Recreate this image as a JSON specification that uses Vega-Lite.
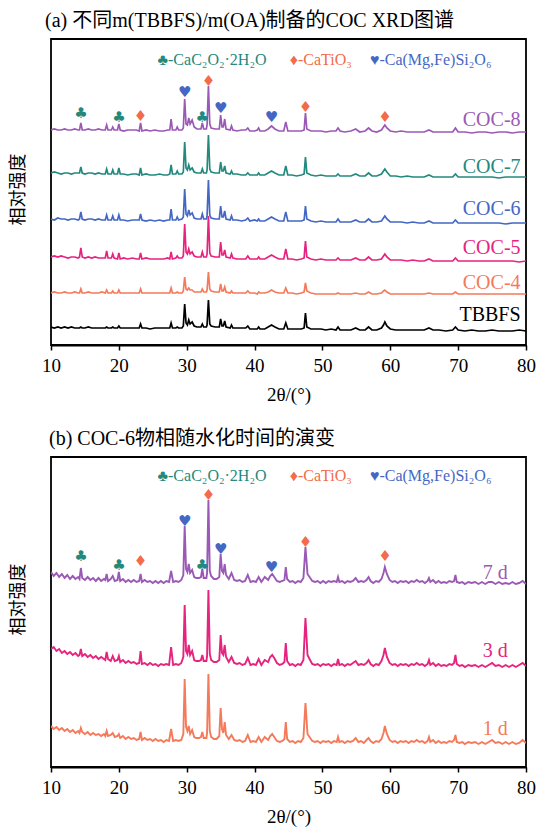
{
"$schema": "https://vega.github.io/schema/vega-lite/v6.json",
"padding": {"left": 8, "top": 10, "right": 5, "bottom": 5},
"spacing": 23,
"config": {
 "font": "Liberation Serif",
 "view": {"stroke": "#000", "strokeWidth": 1.8},
 "axis": {"grid": false}
},
"datasets": {
"xa": [
{"x":10,"TBBFS":18,"COC-4":52,"COC-5":88,"COC-6":126,"COC-7":172,"COC-8":215},
{"x":10.5,"TBBFS":17,"COC-4":53,"COC-5":89,"COC-6":125,"COC-7":173,"COC-8":216},
{"x":11,"TBBFS":18,"COC-4":52,"COC-5":88,"COC-6":127,"COC-7":172,"COC-8":215},
{"x":11.5,"TBBFS":17,"COC-4":52,"COC-5":89,"COC-6":126,"COC-7":171,"COC-8":215},
{"x":12,"TBBFS":18,"COC-4":53,"COC-5":88,"COC-6":126,"COC-7":172,"COC-8":216},
{"x":12.5,"TBBFS":17,"COC-4":52,"COC-5":87,"COC-6":125,"COC-7":172,"COC-8":215},
{"x":13,"TBBFS":18,"COC-4":52,"COC-5":88,"COC-6":126,"COC-7":171,"COC-8":215},
{"x":13.5,"TBBFS":17,"COC-4":53,"COC-5":88,"COC-6":126,"COC-7":172,"COC-8":216},
{"x":14,"TBBFS":17,"COC-4":52,"COC-5":87,"COC-6":125,"COC-7":172,"COC-8":215},
{"x":14.2,"TBBFS":17,"COC-4":52,"COC-5":88,"COC-6":126,"COC-7":172,"COC-8":215},
{"x":14.4,"TBBFS":18,"COC-4":56,"COC-5":97,"COC-6":133,"COC-7":178,"COC-8":222},
{"x":14.6,"TBBFS":17,"COC-4":52,"COC-5":88,"COC-6":126,"COC-7":172,"COC-8":215},
{"x":15,"TBBFS":17,"COC-4":52,"COC-5":87,"COC-6":125,"COC-7":171,"COC-8":215},
{"x":15.5,"TBBFS":18,"COC-4":53,"COC-5":88,"COC-6":126,"COC-7":172,"COC-8":216},
{"x":16,"TBBFS":17,"COC-4":52,"COC-5":87,"COC-6":126,"COC-7":172,"COC-8":215},
{"x":16.5,"TBBFS":17,"COC-4":52,"COC-5":88,"COC-6":125,"COC-7":171,"COC-8":215},
{"x":17,"TBBFS":17,"COC-4":52,"COC-5":87,"COC-6":126,"COC-7":172,"COC-8":216},
{"x":17.5,"TBBFS":17,"COC-4":53,"COC-5":87,"COC-6":125,"COC-7":171,"COC-8":215},
{"x":18,"TBBFS":17,"COC-4":52,"COC-5":87,"COC-6":125,"COC-7":171,"COC-8":215},
{"x":18.2,"TBBFS":18,"COC-4":55,"COC-5":94,"COC-6":130,"COC-7":176,"COC-8":220},
{"x":18.4,"TBBFS":17,"COC-4":52,"COC-5":87,"COC-6":125,"COC-7":171,"COC-8":215},
{"x":18.9,"TBBFS":17,"COC-4":52,"COC-5":87,"COC-6":125,"COC-7":171,"COC-8":215},
{"x":19.1,"TBBFS":18,"COC-4":54,"COC-5":91,"COC-6":129,"COC-7":175,"COC-8":218},
{"x":19.3,"TBBFS":17,"COC-4":52,"COC-5":87,"COC-6":125,"COC-7":171,"COC-8":215},
{"x":19.8,"TBBFS":17,"COC-4":52,"COC-5":86,"COC-6":125,"COC-7":171,"COC-8":215},
{"x":20.0,"TBBFS":19,"COC-4":55,"COC-5":92,"COC-6":130,"COC-7":177,"COC-8":221},
{"x":20.2,"TBBFS":17,"COC-4":52,"COC-5":86,"COC-6":125,"COC-7":171,"COC-8":215},
{"x":20.7,"TBBFS":17,"COC-4":52,"COC-5":87,"COC-6":125,"COC-7":171,"COC-8":214},
{"x":21.3,"TBBFS":17,"COC-4":52,"COC-5":86,"COC-6":124,"COC-7":170,"COC-8":215},
{"x":22,"TBBFS":17,"COC-4":52,"COC-5":87,"COC-6":125,"COC-7":171,"COC-8":215},
{"x":22.6,"TBBFS":17,"COC-4":52,"COC-5":86,"COC-6":125,"COC-7":171,"COC-8":215},
{"x":23.0,"TBBFS":17,"COC-4":52,"COC-5":86,"COC-6":125,"COC-7":170,"COC-8":214},
{"x":23.2,"TBBFS":21,"COC-4":56,"COC-5":92,"COC-6":131,"COC-7":177,"COC-8":222},
{"x":23.4,"TBBFS":17,"COC-4":52,"COC-5":86,"COC-6":125,"COC-7":170,"COC-8":214},
{"x":24,"TBBFS":17,"COC-4":52,"COC-5":87,"COC-6":124,"COC-7":171,"COC-8":215},
{"x":24.6,"TBBFS":16,"COC-4":52,"COC-5":86,"COC-6":125,"COC-7":170,"COC-8":214},
{"x":25.3,"TBBFS":17,"COC-4":52,"COC-5":86,"COC-6":124,"COC-7":170,"COC-8":215},
{"x":26,"TBBFS":17,"COC-4":52,"COC-5":86,"COC-6":125,"COC-7":171,"COC-8":214},
{"x":26.6,"TBBFS":17,"COC-4":52,"COC-5":86,"COC-6":124,"COC-7":170,"COC-8":214},
{"x":27.2,"TBBFS":17,"COC-4":52,"COC-5":87,"COC-6":125,"COC-7":170,"COC-8":215},
{"x":27.5,"TBBFS":17,"COC-4":52,"COC-5":86,"COC-6":125,"COC-7":171,"COC-8":215},
{"x":27.7,"TBBFS":22,"COC-4":57,"COC-5":93,"COC-6":136,"COC-7":180,"COC-8":226},
{"x":27.9,"TBBFS":17,"COC-4":52,"COC-5":86,"COC-6":125,"COC-7":171,"COC-8":215},
{"x":28.4,"TBBFS":17,"COC-4":52,"COC-5":87,"COC-6":125,"COC-7":171,"COC-8":215},
{"x":28.6,"TBBFS":18,"COC-4":53,"COC-5":89,"COC-6":128,"COC-7":174,"COC-8":218},
{"x":28.8,"TBBFS":17,"COC-4":52,"COC-5":87,"COC-6":125,"COC-7":171,"COC-8":215},
{"x":29.3,"TBBFS":17,"COC-4":52,"COC-5":87,"COC-6":126,"COC-7":171,"COC-8":215},
{"x":29.5,"TBBFS":19,"COC-4":54,"COC-5":89,"COC-6":128,"COC-7":173,"COC-8":217},
{"x":29.7,"TBBFS":41,"COC-4":68,"COC-5":121,"COC-6":156,"COC-7":203,"COC-8":246},
{"x":29.9,"TBBFS":22,"COC-4":56,"COC-5":93,"COC-6":131,"COC-7":177,"COC-8":221},
{"x":30.1,"TBBFS":20,"COC-4":55,"COC-5":91,"COC-6":129,"COC-7":175,"COC-8":220},
{"x":30.3,"TBBFS":25,"COC-4":57,"COC-5":96,"COC-6":135,"COC-7":180,"COC-8":227},
{"x":30.5,"TBBFS":21,"COC-4":55,"COC-5":91,"COC-6":130,"COC-7":175,"COC-8":221},
{"x":30.8,"TBBFS":23,"COC-4":55,"COC-5":93,"COC-6":132,"COC-7":177,"COC-8":225},
{"x":31.1,"TBBFS":19,"COC-4":53,"COC-5":89,"COC-6":127,"COC-7":173,"COC-8":218},
{"x":31.5,"TBBFS":18,"COC-4":53,"COC-5":88,"COC-6":126,"COC-7":172,"COC-8":216},
{"x":32.1,"TBBFS":18,"COC-4":53,"COC-5":88,"COC-6":126,"COC-7":172,"COC-8":216},
{"x":32.3,"TBBFS":21,"COC-4":56,"COC-5":93,"COC-6":131,"COC-7":176,"COC-8":222},
{"x":32.5,"TBBFS":18,"COC-4":53,"COC-5":88,"COC-6":126,"COC-7":172,"COC-8":216},
{"x":32.9,"TBBFS":18,"COC-4":53,"COC-5":88,"COC-6":126,"COC-7":172,"COC-8":216},
{"x":33.0,"TBBFS":20,"COC-4":55,"COC-5":91,"COC-6":129,"COC-7":175,"COC-8":220},
{"x":33.2,"TBBFS":45,"COC-4":73,"COC-5":129,"COC-6":165,"COC-7":210,"COC-8":259},
{"x":33.4,"TBBFS":21,"COC-4":56,"COC-5":92,"COC-6":130,"COC-7":176,"COC-8":221},
{"x":33.6,"TBBFS":19,"COC-4":54,"COC-5":89,"COC-6":127,"COC-7":173,"COC-8":217},
{"x":34.2,"TBBFS":18,"COC-4":53,"COC-5":88,"COC-6":126,"COC-7":172,"COC-8":216},
{"x":34.8,"TBBFS":18,"COC-4":53,"COC-5":88,"COC-6":126,"COC-7":172,"COC-8":216},
{"x":35.0,"TBBFS":26,"COC-4":61,"COC-5":103,"COC-6":139,"COC-7":183,"COC-8":230},
{"x":35.2,"TBBFS":19,"COC-4":54,"COC-5":90,"COC-6":128,"COC-7":174,"COC-8":218},
{"x":35.4,"TBBFS":19,"COC-4":54,"COC-5":90,"COC-6":128,"COC-7":174,"COC-8":218},
{"x":35.6,"TBBFS":24,"COC-4":58,"COC-5":95,"COC-6":134,"COC-7":179,"COC-8":226},
{"x":35.8,"TBBFS":18,"COC-4":53,"COC-5":88,"COC-6":126,"COC-7":172,"COC-8":216},
{"x":36.4,"TBBFS":17,"COC-4":52,"COC-5":87,"COC-6":125,"COC-7":171,"COC-8":215},
{"x":36.6,"TBBFS":20,"COC-4":54,"COC-5":91,"COC-6":129,"COC-7":174,"COC-8":219},
{"x":36.8,"TBBFS":17,"COC-4":52,"COC-5":87,"COC-6":125,"COC-7":171,"COC-8":215},
{"x":37.4,"TBBFS":17,"COC-4":52,"COC-5":86,"COC-6":125,"COC-7":171,"COC-8":214},
{"x":38.1,"TBBFS":17,"COC-4":52,"COC-5":86,"COC-6":124,"COC-7":170,"COC-8":215},
{"x":38.7,"TBBFS":17,"COC-4":52,"COC-5":86,"COC-6":125,"COC-7":170,"COC-8":215},
{"x":39.0,"TBBFS":19,"COC-4":54,"COC-5":89,"COC-6":127,"COC-7":172,"COC-8":217},
{"x":39.3,"TBBFS":16,"COC-4":52,"COC-5":86,"COC-6":124,"COC-7":170,"COC-8":214},
{"x":40.0,"TBBFS":16,"COC-4":52,"COC-5":86,"COC-6":125,"COC-7":170,"COC-8":214},
{"x":40.4,"TBBFS":16,"COC-4":51,"COC-5":86,"COC-6":124,"COC-7":170,"COC-8":215},
{"x":40.6,"TBBFS":18,"COC-4":53,"COC-5":88,"COC-6":126,"COC-7":172,"COC-8":217},
{"x":40.8,"TBBFS":16,"COC-4":52,"COC-5":86,"COC-6":124,"COC-7":170,"COC-8":214},
{"x":41.5,"TBBFS":16,"COC-4":52,"COC-5":86,"COC-6":124,"COC-7":170,"COC-8":214},
{"x":42.0,"TBBFS":18,"COC-4":53,"COC-5":88,"COC-6":126,"COC-7":172,"COC-8":216},
{"x":42.5,"TBBFS":20,"COC-4":55,"COC-5":90,"COC-6":128,"COC-7":174,"COC-8":219},
{"x":43.0,"TBBFS":18,"COC-4":53,"COC-5":88,"COC-6":126,"COC-7":172,"COC-8":216},
{"x":43.6,"TBBFS":16,"COC-4":52,"COC-5":86,"COC-6":124,"COC-7":170,"COC-8":214},
{"x":44.3,"TBBFS":16,"COC-4":52,"COC-5":86,"COC-6":124,"COC-7":170,"COC-8":214},
{"x":44.6,"TBBFS":22,"COC-4":57,"COC-5":96,"COC-6":133,"COC-7":179,"COC-8":223},
{"x":44.9,"TBBFS":16,"COC-4":52,"COC-5":86,"COC-6":124,"COC-7":170,"COC-8":214},
{"x":45.5,"TBBFS":16,"COC-4":52,"COC-5":86,"COC-6":124,"COC-7":170,"COC-8":214},
{"x":46.2,"TBBFS":16,"COC-4":51,"COC-5":85,"COC-6":124,"COC-7":169,"COC-8":214},
{"x":46.9,"TBBFS":16,"COC-4":52,"COC-5":86,"COC-6":124,"COC-7":170,"COC-8":214},
{"x":47.3,"TBBFS":17,"COC-4":53,"COC-5":87,"COC-6":125,"COC-7":171,"COC-8":215},
{"x":47.5,"TBBFS":32,"COC-4":62,"COC-5":104,"COC-6":139,"COC-7":188,"COC-8":232},
{"x":47.7,"TBBFS":18,"COC-4":54,"COC-5":88,"COC-6":126,"COC-7":172,"COC-8":216},
{"x":48.3,"TBBFS":16,"COC-4":52,"COC-5":86,"COC-6":124,"COC-7":170,"COC-8":214},
{"x":49,"TBBFS":16,"COC-4":51,"COC-5":85,"COC-6":123,"COC-7":169,"COC-8":214},
{"x":49.8,"TBBFS":16,"COC-4":51,"COC-5":86,"COC-6":124,"COC-7":170,"COC-8":214},
{"x":50.5,"TBBFS":15,"COC-4":51,"COC-5":85,"COC-6":123,"COC-7":169,"COC-8":213},
{"x":51.3,"TBBFS":16,"COC-4":51,"COC-5":85,"COC-6":123,"COC-7":169,"COC-8":214},
{"x":52.0,"TBBFS":15,"COC-4":51,"COC-5":85,"COC-6":123,"COC-7":169,"COC-8":214},
{"x":52.3,"TBBFS":18,"COC-4":52,"COC-5":87,"COC-6":126,"COC-7":171,"COC-8":217},
{"x":52.6,"TBBFS":15,"COC-4":51,"COC-5":85,"COC-6":123,"COC-7":169,"COC-8":214},
{"x":53.3,"TBBFS":15,"COC-4":51,"COC-5":85,"COC-6":123,"COC-7":169,"COC-8":213},
{"x":54.2,"TBBFS":15,"COC-4":51,"COC-5":85,"COC-6":123,"COC-7":169,"COC-8":214},
{"x":54.9,"TBBFS":17,"COC-4":52,"COC-5":87,"COC-6":125,"COC-7":171,"COC-8":216},
{"x":55.5,"TBBFS":15,"COC-4":51,"COC-5":85,"COC-6":123,"COC-7":169,"COC-8":213},
{"x":56.3,"TBBFS":15,"COC-4":51,"COC-5":85,"COC-6":123,"COC-7":169,"COC-8":214},
{"x":56.8,"TBBFS":18,"COC-4":53,"COC-5":88,"COC-6":126,"COC-7":172,"COC-8":217},
{"x":57.3,"TBBFS":15,"COC-4":51,"COC-5":85,"COC-6":123,"COC-7":169,"COC-8":214},
{"x":58.0,"TBBFS":15,"COC-4":51,"COC-5":85,"COC-6":123,"COC-7":169,"COC-8":213},
{"x":58.7,"TBBFS":17,"COC-4":52,"COC-5":86,"COC-6":124,"COC-7":171,"COC-8":215},
{"x":59.0,"TBBFS":20,"COC-4":54,"COC-5":89,"COC-6":127,"COC-7":174,"COC-8":218},
{"x":59.2,"TBBFS":23,"COC-4":55,"COC-5":91,"COC-6":129,"COC-7":176,"COC-8":220},
{"x":59.5,"TBBFS":19,"COC-4":53,"COC-5":88,"COC-6":126,"COC-7":173,"COC-8":217},
{"x":60.0,"TBBFS":16,"COC-4":51,"COC-5":85,"COC-6":123,"COC-7":169,"COC-8":214},
{"x":60.8,"TBBFS":15,"COC-4":51,"COC-5":85,"COC-6":123,"COC-7":169,"COC-8":213},
{"x":61.6,"TBBFS":15,"COC-4":51,"COC-5":85,"COC-6":123,"COC-7":168,"COC-8":214},
{"x":62.5,"TBBFS":15,"COC-4":51,"COC-5":84,"COC-6":122,"COC-7":169,"COC-8":213},
{"x":63.3,"TBBFS":15,"COC-4":51,"COC-5":85,"COC-6":123,"COC-7":168,"COC-8":213},
{"x":64.2,"TBBFS":15,"COC-4":51,"COC-5":84,"COC-6":122,"COC-7":168,"COC-8":213},
{"x":65.0,"TBBFS":15,"COC-4":51,"COC-5":84,"COC-6":122,"COC-7":168,"COC-8":213},
{"x":65.7,"TBBFS":17,"COC-4":52,"COC-5":86,"COC-6":124,"COC-7":170,"COC-8":215},
{"x":66.3,"TBBFS":15,"COC-4":51,"COC-5":84,"COC-6":122,"COC-7":168,"COC-8":213},
{"x":67.2,"TBBFS":15,"COC-4":51,"COC-5":84,"COC-6":122,"COC-7":168,"COC-8":213},
{"x":68.2,"TBBFS":14,"COC-4":51,"COC-5":84,"COC-6":122,"COC-7":168,"COC-8":213},
{"x":69.2,"TBBFS":15,"COC-4":51,"COC-5":84,"COC-6":122,"COC-7":168,"COC-8":213},
{"x":69.6,"TBBFS":18,"COC-4":53,"COC-5":87,"COC-6":125,"COC-7":171,"COC-8":217},
{"x":70.0,"TBBFS":15,"COC-4":51,"COC-5":84,"COC-6":122,"COC-7":168,"COC-8":213},
{"x":71,"TBBFS":14,"COC-4":51,"COC-5":84,"COC-6":122,"COC-7":168,"COC-8":213},
{"x":72,"TBBFS":15,"COC-4":51,"COC-5":84,"COC-6":122,"COC-7":168,"COC-8":212},
{"x":73,"TBBFS":14,"COC-4":51,"COC-5":84,"COC-6":122,"COC-7":168,"COC-8":213},
{"x":74,"TBBFS":14,"COC-4":51,"COC-5":84,"COC-6":122,"COC-7":168,"COC-8":213},
{"x":75,"TBBFS":15,"COC-4":51,"COC-5":84,"COC-6":122,"COC-7":168,"COC-8":212},
{"x":76,"TBBFS":14,"COC-4":51,"COC-5":84,"COC-6":122,"COC-7":167,"COC-8":213},
{"x":77,"TBBFS":14,"COC-4":51,"COC-5":84,"COC-6":121,"COC-7":168,"COC-8":213},
{"x":78,"TBBFS":14,"COC-4":51,"COC-5":84,"COC-6":122,"COC-7":168,"COC-8":212},
{"x":79,"TBBFS":15,"COC-4":51,"COC-5":83,"COC-6":122,"COC-7":168,"COC-8":213},
{"x":80,"TBBFS":14,"COC-4":51,"COC-5":84,"COC-6":122,"COC-7":168,"COC-8":213}
],
"la": [
{"x":79.2,"v":225,"c":"COC-8","t":"COC-8"},
{"x":79.2,"v":178,"c":"COC-7","t":"COC-7"},
{"x":79.2,"v":136,"c":"COC-6","t":"COC-6"},
{"x":79.2,"v":97,"c":"COC-5","t":"COC-5"},
{"x":79.2,"v":62,"c":"COC-4","t":"COC-4"},
{"x":79.2,"v":30,"c":"TBBFS","t":"TBBFS"}
],
"ma": [
{"x":14.4,"v":232,"c":"CaC2O2·2H2O","t":"♣"},
{"x":20.0,"v":228,"c":"CaC2O2·2H2O","t":"♣"},
{"x":23.2,"v":229,"c":"CaTiO3","t":"♦"},
{"x":29.7,"v":253,"c":"Ca(Mg,Fe)Si2O6","t":"♥"},
{"x":32.3,"v":228,"c":"CaC2O2·2H2O","t":"♣"},
{"x":33.2,"v":264,"c":"CaTiO3","t":"♦"},
{"x":35.0,"v":237,"c":"Ca(Mg,Fe)Si2O6","t":"♥"},
{"x":42.5,"v":228,"c":"Ca(Mg,Fe)Si2O6","t":"♥"},
{"x":47.5,"v":238,"c":"CaTiO3","t":"♦"},
{"x":59.2,"v":228,"c":"CaTiO3","t":"♦"}
],
"ga": [
{"x":25.7,"v":285,"c":"CaC2O2·2H2O","t":"♣-CaC₂O₂·2H₂O"},
{"x":45.2,"v":285,"c":"CaTiO3","t":"♦-CaTiO₃"},
{"x":57.0,"v":285,"c":"Ca(Mg,Fe)Si2O6","t":"♥-Ca(Mg,Fe)Si₂O₆"}
],
"xb": [
{"x":10,"7 d":195,"3 d":118,"1 d":41},
{"x":10.4,"7 d":191,"3 d":120,"1 d":38},
{"x":10.8,"7 d":194,"3 d":116,"1 d":40},
{"x":11.2,"7 d":190,"3 d":118,"1 d":37},
{"x":11.6,"7 d":193,"3 d":114,"1 d":39},
{"x":12.0,"7 d":189,"3 d":116,"1 d":36},
{"x":12.4,"7 d":192,"3 d":113,"1 d":38},
{"x":12.8,"7 d":188,"3 d":115,"1 d":35},
{"x":13.2,"7 d":191,"3 d":112,"1 d":37},
{"x":13.6,"7 d":188,"3 d":114,"1 d":34},
{"x":14.0,"7 d":190,"3 d":111,"1 d":36},
{"x":14.2,"7 d":188,"3 d":112,"1 d":34},
{"x":14.4,"7 d":199,"3 d":118,"1 d":39},
{"x":14.6,"7 d":189,"3 d":111,"1 d":35},
{"x":15.0,"7 d":187,"3 d":113,"1 d":33},
{"x":15.4,"7 d":190,"3 d":110,"1 d":35},
{"x":15.8,"7 d":187,"3 d":112,"1 d":32},
{"x":16.2,"7 d":189,"3 d":109,"1 d":34},
{"x":16.6,"7 d":186,"3 d":111,"1 d":32},
{"x":17.0,"7 d":189,"3 d":108,"1 d":33},
{"x":17.4,"7 d":186,"3 d":110,"1 d":31},
{"x":17.8,"7 d":188,"3 d":108,"1 d":33},
{"x":18.0,"7 d":187,"3 d":107,"1 d":31},
{"x":18.2,"7 d":193,"3 d":115,"1 d":36},
{"x":18.4,"7 d":186,"3 d":108,"1 d":31},
{"x":18.8,"7 d":188,"3 d":106,"1 d":32},
{"x":19.1,"7 d":191,"3 d":111,"1 d":34},
{"x":19.4,"7 d":186,"3 d":106,"1 d":30},
{"x":19.8,"7 d":187,"3 d":107,"1 d":31},
{"x":20.0,"7 d":195,"3 d":111,"1 d":33},
{"x":20.2,"7 d":186,"3 d":105,"1 d":29},
{"x":20.6,"7 d":188,"3 d":107,"1 d":31},
{"x":21.0,"7 d":185,"3 d":104,"1 d":28},
{"x":21.4,"7 d":187,"3 d":106,"1 d":30},
{"x":21.8,"7 d":185,"3 d":104,"1 d":28},
{"x":22.2,"7 d":187,"3 d":105,"1 d":29},
{"x":22.6,"7 d":185,"3 d":103,"1 d":27},
{"x":23.0,"7 d":186,"3 d":104,"1 d":28},
{"x":23.2,"7 d":193,"3 d":116,"1 d":35},
{"x":23.4,"7 d":185,"3 d":103,"1 d":27},
{"x":23.8,"7 d":187,"3 d":104,"1 d":29},
{"x":24.2,"7 d":185,"3 d":102,"1 d":27},
{"x":24.6,"7 d":186,"3 d":104,"1 d":28},
{"x":25.0,"7 d":184,"3 d":102,"1 d":26},
{"x":25.4,"7 d":186,"3 d":103,"1 d":28},
{"x":25.8,"7 d":184,"3 d":101,"1 d":26},
{"x":26.2,"7 d":186,"3 d":103,"1 d":27},
{"x":26.6,"7 d":184,"3 d":102,"1 d":25},
{"x":27.0,"7 d":186,"3 d":103,"1 d":27},
{"x":27.4,"7 d":185,"3 d":102,"1 d":26},
{"x":27.7,"7 d":196,"3 d":120,"1 d":38},
{"x":28.0,"7 d":185,"3 d":102,"1 d":26},
{"x":28.4,"7 d":186,"3 d":103,"1 d":27},
{"x":28.8,"7 d":185,"3 d":102,"1 d":26},
{"x":29.2,"7 d":187,"3 d":104,"1 d":27},
{"x":29.5,"7 d":192,"3 d":110,"1 d":33},
{"x":29.7,"7 d":241,"3 d":162,"1 d":88},
{"x":29.9,"7 d":198,"3 d":116,"1 d":40},
{"x":30.1,"7 d":195,"3 d":113,"1 d":36},
{"x":30.3,"7 d":203,"3 d":122,"1 d":41},
{"x":30.5,"7 d":194,"3 d":112,"1 d":33},
{"x":30.8,"7 d":197,"3 d":116,"1 d":37},
{"x":31.1,"7 d":190,"3 d":107,"1 d":30},
{"x":31.4,"7 d":189,"3 d":106,"1 d":29},
{"x":31.8,"7 d":189,"3 d":106,"1 d":29},
{"x":32.1,"7 d":190,"3 d":107,"1 d":30},
{"x":32.3,"7 d":198,"3 d":112,"1 d":35},
{"x":32.5,"7 d":189,"3 d":106,"1 d":29},
{"x":32.9,"7 d":189,"3 d":106,"1 d":29},
{"x":33.0,"7 d":194,"3 d":111,"1 d":34},
{"x":33.2,"7 d":267,"3 d":177,"1 d":93},
{"x":33.4,"7 d":196,"3 d":113,"1 d":36},
{"x":33.6,"7 d":191,"3 d":107,"1 d":30},
{"x":34.0,"7 d":188,"3 d":105,"1 d":28},
{"x":34.4,"7 d":188,"3 d":105,"1 d":28},
{"x":34.8,"7 d":190,"3 d":107,"1 d":31},
{"x":35.0,"7 d":213,"3 d":132,"1 d":59},
{"x":35.2,"7 d":196,"3 d":114,"1 d":38},
{"x":35.4,"7 d":194,"3 d":112,"1 d":34},
{"x":35.6,"7 d":203,"3 d":122,"1 d":45},
{"x":35.8,"7 d":192,"3 d":110,"1 d":32},
{"x":36.2,"7 d":188,"3 d":105,"1 d":28},
{"x":36.6,"7 d":194,"3 d":110,"1 d":32},
{"x":37.0,"7 d":187,"3 d":104,"1 d":27},
{"x":37.4,"7 d":186,"3 d":103,"1 d":26},
{"x":37.8,"7 d":187,"3 d":104,"1 d":27},
{"x":38.2,"7 d":185,"3 d":102,"1 d":25},
{"x":38.6,"7 d":186,"3 d":103,"1 d":26},
{"x":39.0,"7 d":192,"3 d":109,"1 d":32},
{"x":39.4,"7 d":185,"3 d":102,"1 d":25},
{"x":39.8,"7 d":186,"3 d":103,"1 d":26},
{"x":40.2,"7 d":185,"3 d":102,"1 d":25},
{"x":40.6,"7 d":190,"3 d":108,"1 d":30},
{"x":41.0,"7 d":185,"3 d":102,"1 d":25},
{"x":41.5,"7 d":190,"3 d":107,"1 d":30},
{"x":42.0,"7 d":187,"3 d":105,"1 d":27},
{"x":42.3,"7 d":191,"3 d":110,"1 d":31},
{"x":42.6,"7 d":193,"3 d":112,"1 d":33},
{"x":42.9,"7 d":190,"3 d":109,"1 d":30},
{"x":43.3,"7 d":186,"3 d":104,"1 d":26},
{"x":43.7,"7 d":185,"3 d":102,"1 d":25},
{"x":44.1,"7 d":186,"3 d":103,"1 d":26},
{"x":44.4,"7 d":187,"3 d":105,"1 d":28},
{"x":44.6,"7 d":200,"3 d":124,"1 d":45},
{"x":44.8,"7 d":188,"3 d":106,"1 d":28},
{"x":45.2,"7 d":185,"3 d":102,"1 d":25},
{"x":45.6,"7 d":186,"3 d":103,"1 d":26},
{"x":46.0,"7 d":184,"3 d":101,"1 d":24},
{"x":46.4,"7 d":186,"3 d":103,"1 d":26},
{"x":46.8,"7 d":185,"3 d":102,"1 d":25},
{"x":47.2,"7 d":189,"3 d":107,"1 d":29},
{"x":47.5,"7 d":220,"3 d":149,"1 d":64},
{"x":47.8,"7 d":193,"3 d":112,"1 d":33},
{"x":48.1,"7 d":190,"3 d":108,"1 d":30},
{"x":48.5,"7 d":186,"3 d":103,"1 d":26},
{"x":48.9,"7 d":185,"3 d":102,"1 d":25},
{"x":49.3,"7 d":186,"3 d":103,"1 d":26},
{"x":49.7,"7 d":184,"3 d":101,"1 d":24},
{"x":50.1,"7 d":186,"3 d":103,"1 d":26},
{"x":50.5,"7 d":184,"3 d":102,"1 d":25},
{"x":50.9,"7 d":186,"3 d":103,"1 d":26},
{"x":51.3,"7 d":185,"3 d":101,"1 d":24},
{"x":51.7,"7 d":186,"3 d":103,"1 d":26},
{"x":52.1,"7 d":185,"3 d":102,"1 d":25},
{"x":52.3,"7 d":190,"3 d":108,"1 d":30},
{"x":52.5,"7 d":185,"3 d":102,"1 d":25},
{"x":52.9,"7 d":186,"3 d":103,"1 d":26},
{"x":53.3,"7 d":184,"3 d":101,"1 d":24},
{"x":53.7,"7 d":186,"3 d":103,"1 d":26},
{"x":54.1,"7 d":185,"3 d":102,"1 d":25},
{"x":54.5,"7 d":186,"3 d":104,"1 d":26},
{"x":54.9,"7 d":189,"3 d":106,"1 d":29},
{"x":55.3,"7 d":185,"3 d":102,"1 d":25},
{"x":55.7,"7 d":186,"3 d":103,"1 d":26},
{"x":56.1,"7 d":185,"3 d":102,"1 d":24},
{"x":56.5,"7 d":187,"3 d":104,"1 d":27},
{"x":56.8,"7 d":190,"3 d":107,"1 d":29},
{"x":57.1,"7 d":186,"3 d":103,"1 d":26},
{"x":57.5,"7 d":184,"3 d":101,"1 d":24},
{"x":57.9,"7 d":186,"3 d":103,"1 d":26},
{"x":58.3,"7 d":185,"3 d":102,"1 d":25},
{"x":58.7,"7 d":188,"3 d":106,"1 d":28},
{"x":59.0,"7 d":194,"3 d":112,"1 d":34},
{"x":59.2,"7 d":200,"3 d":119,"1 d":41},
{"x":59.5,"7 d":193,"3 d":110,"1 d":33},
{"x":59.9,"7 d":187,"3 d":104,"1 d":27},
{"x":60.3,"7 d":185,"3 d":102,"1 d":25},
{"x":60.7,"7 d":186,"3 d":103,"1 d":26},
{"x":61.1,"7 d":184,"3 d":101,"1 d":24},
{"x":61.5,"7 d":186,"3 d":103,"1 d":26},
{"x":61.9,"7 d":185,"3 d":102,"1 d":25},
{"x":62.3,"7 d":186,"3 d":103,"1 d":26},
{"x":62.7,"7 d":184,"3 d":101,"1 d":24},
{"x":63.1,"7 d":186,"3 d":103,"1 d":26},
{"x":63.5,"7 d":185,"3 d":102,"1 d":25},
{"x":63.9,"7 d":187,"3 d":104,"1 d":27},
{"x":64.3,"7 d":185,"3 d":102,"1 d":25},
{"x":64.7,"7 d":186,"3 d":103,"1 d":26},
{"x":65.1,"7 d":184,"3 d":101,"1 d":24},
{"x":65.5,"7 d":186,"3 d":103,"1 d":26},
{"x":65.7,"7 d":189,"3 d":107,"1 d":30},
{"x":65.9,"7 d":185,"3 d":102,"1 d":25},
{"x":66.3,"7 d":187,"3 d":104,"1 d":27},
{"x":66.7,"7 d":184,"3 d":101,"1 d":24},
{"x":67.1,"7 d":186,"3 d":103,"1 d":26},
{"x":67.5,"7 d":184,"3 d":101,"1 d":24},
{"x":67.9,"7 d":185,"3 d":102,"1 d":25},
{"x":68.3,"7 d":184,"3 d":101,"1 d":24},
{"x":68.7,"7 d":186,"3 d":103,"1 d":26},
{"x":69.1,"7 d":185,"3 d":102,"1 d":25},
{"x":69.4,"7 d":186,"3 d":104,"1 d":27},
{"x":69.6,"7 d":192,"3 d":112,"1 d":32},
{"x":69.8,"7 d":185,"3 d":103,"1 d":25},
{"x":70.2,"7 d":184,"3 d":101,"1 d":24},
{"x":70.6,"7 d":185,"3 d":102,"1 d":25},
{"x":71.0,"7 d":183,"3 d":100,"1 d":23},
{"x":71.5,"7 d":185,"3 d":102,"1 d":25},
{"x":72.0,"7 d":184,"3 d":101,"1 d":24},
{"x":72.5,"7 d":185,"3 d":102,"1 d":25},
{"x":73.0,"7 d":183,"3 d":100,"1 d":23},
{"x":73.5,"7 d":185,"3 d":102,"1 d":25},
{"x":74.0,"7 d":183,"3 d":100,"1 d":23},
{"x":74.5,"7 d":185,"3 d":102,"1 d":25},
{"x":75.0,"7 d":185,"3 d":104,"1 d":27},
{"x":75.5,"7 d":183,"3 d":101,"1 d":24},
{"x":76.0,"7 d":185,"3 d":102,"1 d":25},
{"x":76.5,"7 d":183,"3 d":100,"1 d":23},
{"x":77.0,"7 d":184,"3 d":102,"1 d":25},
{"x":77.5,"7 d":183,"3 d":100,"1 d":23},
{"x":78.0,"7 d":185,"3 d":102,"1 d":25},
{"x":78.5,"7 d":183,"3 d":100,"1 d":23},
{"x":79.0,"7 d":184,"3 d":102,"1 d":24},
{"x":79.5,"7 d":186,"3 d":104,"1 d":27},
{"x":80.0,"7 d":183,"3 d":101,"1 d":24}
],
"lb": [
{"x":77.3,"v":194,"c":"7 d","t":"7 d"},
{"x":77.3,"v":116,"c":"3 d","t":"3 d"},
{"x":77.3,"v":38,"c":"1 d","t":"1 d"}
],
"mb": [
{"x":14.4,"v":211,"c":"CaC2O2·2H2O","t":"♣"},
{"x":20.0,"v":202,"c":"CaC2O2·2H2O","t":"♣"},
{"x":23.2,"v":206,"c":"CaTiO3","t":"♦"},
{"x":29.7,"v":246,"c":"Ca(Mg,Fe)Si2O6","t":"♥"},
{"x":32.3,"v":202,"c":"CaC2O2·2H2O","t":"♣"},
{"x":33.2,"v":272,"c":"CaTiO3","t":"♦"},
{"x":35.0,"v":218,"c":"Ca(Mg,Fe)Si2O6","t":"♥"},
{"x":42.5,"v":200,"c":"Ca(Mg,Fe)Si2O6","t":"♥"},
{"x":47.5,"v":225,"c":"CaTiO3","t":"♦"},
{"x":59.2,"v":211,"c":"CaTiO3","t":"♦"}
],
"gb": [
{"x":25.7,"v":291,"c":"CaC2O2·2H2O","t":"♣-CaC₂O₂·2H₂O"},
{"x":45.2,"v":291,"c":"CaTiO3","t":"♦-CaTiO₃"},
{"x":57.0,"v":291,"c":"Ca(Mg,Fe)Si2O6","t":"♥-Ca(Mg,Fe)Si₂O₆"}
]
},
"vconcat": [
{
 "title": {"text": "(a) 不同m(TBBFS)/m(OA)制备的COC  XRD图谱", "anchor": "start", "frame": "group", "font": "Liberation Serif, Noto Sans CJK SC", "fontSize": 20, "fontWeight": "normal", "color": "#000", "offset": 8, "dx": -6},
 "width": 475, "height": 306,
 "encoding": {
  "x": {"field": "x", "type": "quantitative", "scale": {"domain": [10, 80], "nice": false}, "title": "2θ/(°)",
        "axis": {"values": [10,20,30,40,50,60,70,80], "tickSize": 5, "tickColor": "#000", "tickWidth": 1.5, "domainColor": "#000", "domainWidth": 1.8, "labelFont": "Liberation Serif", "labelFontSize": 19, "labelColor": "#000", "labelPadding": 6, "titleFont": "Liberation Serif", "titleFontSize": 19, "titleFontWeight": "normal", "titleColor": "#000", "titlePadding": 10, "labelFlush": false, "grid": false}},
  "y": {"field": "v", "type": "quantitative", "scale": {"domain": [0, 306], "nice": false, "zero": false}, "title": "相对强度",
        "axis": {"domain": false, "ticks": false, "labels": false, "grid": false, "titleFont": "Noto Sans CJK SC", "titleFontSize": 18, "titleFontWeight": "normal", "titleColor": "#000", "titlePadding": 24, "titleY": 150}},
  "color": {"field": "c", "type": "nominal", "legend": null, "scale": {"domain": ["TBBFS","COC-4","COC-5","COC-6","COC-7","COC-8","1 d","3 d","7 d","CaC2O2·2H2O","CaTiO3","Ca(Mg,Fe)Si2O6"], "range": ["#000000","#F47A5A","#E6237F","#4467C4","#23897E","#9B59B6","#F47A5A","#E6237F","#9B59B6","#23897E","#F26B4A","#4467C4"]}}
 },
 "layer": [
  {"data": {"name": "xa"}, "transform": [{"fold": ["TBBFS","COC-4","COC-5","COC-6","COC-7","COC-8"], "as": ["c","v"]}], "mark": {"type": "line", "strokeWidth": 1.7, "clip": true}},
  {"data": {"name": "la"}, "mark": {"type": "text", "align": "right", "baseline": "middle", "font": "Liberation Serif", "fontSize": 20}, "encoding": {"text": {"field": "t"}}},
  {"data": {"name": "ma"}, "mark": {"type": "text", "align": "center", "baseline": "middle", "font": "DejaVu Sans", "fontSize": 15}, "encoding": {"text": {"field": "t"}}},
  {"data": {"name": "ga"}, "mark": {"type": "text", "align": "left", "baseline": "middle", "font": "Liberation Serif, DejaVu Serif", "fontSize": 16}, "encoding": {"text": {"field": "t"}}}
 ]
},
{
 "title": {"text": "(b) COC-6物相随水化时间的演变", "anchor": "start", "frame": "group", "font": "Liberation Serif, Noto Sans CJK SC", "fontSize": 20, "fontWeight": "normal", "color": "#000", "offset": 8, "dx": -2},
 "width": 475, "height": 310,
 "encoding": {
  "x": {"field": "x", "type": "quantitative", "scale": {"domain": [10, 80], "nice": false}, "title": "2θ/(°)",
        "axis": {"values": [10,20,30,40,50,60,70,80], "tickSize": 5, "tickColor": "#000", "tickWidth": 1.5, "domainColor": "#000", "domainWidth": 1.8, "labelFont": "Liberation Serif", "labelFontSize": 19, "labelColor": "#000", "labelPadding": 6, "titleFont": "Liberation Serif", "titleFontSize": 19, "titleFontWeight": "normal", "titleColor": "#000", "titlePadding": 10, "labelFlush": false, "grid": false}},
  "y": {"field": "v", "type": "quantitative", "scale": {"domain": [0, 310], "nice": false, "zero": false}, "title": "相对强度",
        "axis": {"domain": false, "ticks": false, "labels": false, "grid": false, "titleFont": "Noto Sans CJK SC", "titleFontSize": 18, "titleFontWeight": "normal", "titleColor": "#000", "titlePadding": 24, "titleY": 142}},
  "color": {"field": "c", "type": "nominal", "legend": null, "scale": {"domain": ["TBBFS","COC-4","COC-5","COC-6","COC-7","COC-8","1 d","3 d","7 d","CaC2O2·2H2O","CaTiO3","Ca(Mg,Fe)Si2O6"], "range": ["#000000","#F47A5A","#E6237F","#4467C4","#23897E","#9B59B6","#F47A5A","#E6237F","#9B59B6","#23897E","#F26B4A","#4467C4"]}}
 },
 "layer": [
  {"data": {"name": "xb"}, "transform": [{"fold": ["7 d","3 d","1 d"], "as": ["c","v"]}], "mark": {"type": "line", "strokeWidth": 1.9, "clip": true}},
  {"data": {"name": "lb"}, "mark": {"type": "text", "align": "right", "baseline": "middle", "font": "Liberation Serif", "fontSize": 20}, "encoding": {"text": {"field": "t"}}},
  {"data": {"name": "mb"}, "mark": {"type": "text", "align": "center", "baseline": "middle", "font": "DejaVu Sans", "fontSize": 15}, "encoding": {"text": {"field": "t"}}},
  {"data": {"name": "gb"}, "mark": {"type": "text", "align": "left", "baseline": "middle", "font": "Liberation Serif, DejaVu Serif", "fontSize": 16}, "encoding": {"text": {"field": "t"}}}
 ]
}
]
}
